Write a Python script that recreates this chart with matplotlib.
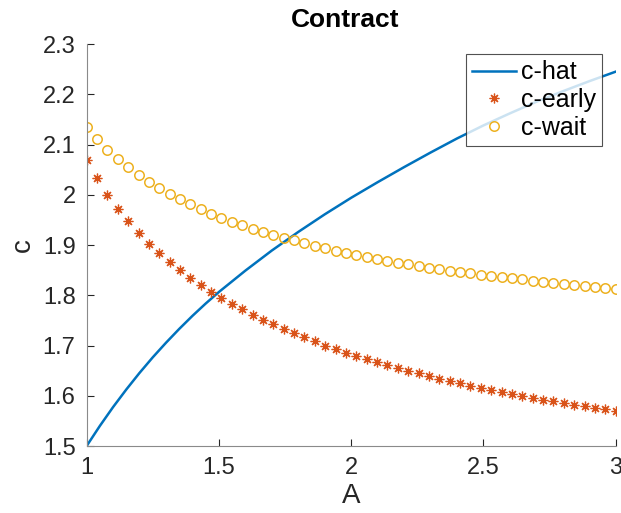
import matplotlib
matplotlib.use("Agg")
import matplotlib.pyplot as plt
import numpy as np

plt.rcParams.update({
    "font.family": ["Liberation Sans", "DejaVu Sans"],
    "axes.linewidth": 0.8,
})

# sample grid for the marker series (52 evenly spaced values of A)
A = np.linspace(1.0, 3.0, 52)

c_early = [
    2.070, 2.034, 2.000, 1.972, 1.947, 1.924, 1.903, 1.884, 1.866, 1.850,
    1.835, 1.821, 1.807, 1.795, 1.783, 1.772, 1.761, 1.751, 1.742, 1.733,
    1.724, 1.716, 1.708, 1.700, 1.693, 1.686, 1.680, 1.673, 1.667, 1.661,
    1.655, 1.650, 1.645, 1.639, 1.634, 1.629, 1.625, 1.620, 1.616, 1.612,
    1.608, 1.604, 1.600, 1.596, 1.592, 1.589, 1.586, 1.582, 1.579, 1.576,
    1.573, 1.570,
]

c_wait = [
    2.134, 2.110, 2.089, 2.071, 2.055, 2.040, 2.026, 2.013, 2.002, 1.991,
    1.981, 1.971, 1.962, 1.954, 1.946, 1.939, 1.932, 1.926, 1.920, 1.914,
    1.909, 1.904, 1.899, 1.894, 1.889, 1.885, 1.881, 1.877, 1.873, 1.869,
    1.865, 1.862, 1.859, 1.855, 1.852, 1.849, 1.847, 1.844, 1.841, 1.839,
    1.836, 1.834, 1.832, 1.829, 1.827, 1.825, 1.823, 1.821, 1.819, 1.817,
    1.815, 1.813,
]

A_hat = [1.0, 1.05, 1.1, 1.15, 1.2, 1.25, 1.3, 1.35, 1.4, 1.45, 1.5,
         1.6, 1.7, 1.8, 1.9, 2.0, 2.1, 2.2, 2.3, 2.4, 2.5,
         2.6, 2.7, 2.8, 2.9, 3.0]
c_hat = [1.500, 1.540, 1.5775, 1.6125, 1.6455, 1.6765, 1.7055, 1.733, 1.759, 1.7835, 1.8065,
         1.849, 1.889, 1.926, 1.961, 1.994, 2.025, 2.055, 2.084, 2.112, 2.138,
         2.162, 2.185, 2.206, 2.226, 2.245]

x_ticks = [1, 1.5, 2, 2.5, 3]
x_ticklabels = ["1", "1.5", "2", "2.5", "3"]
y_ticks = [1.5, 1.6, 1.7, 1.8, 1.9, 2.0, 2.1, 2.2, 2.3]
y_ticklabels = ["1.5", "1.6", "1.7", "1.8", "1.9", "2", "2.1", "2.2", "2.3"]

BLUE = "#0072BD"
ORANGE = "#D95319"
YELLOW = "#EDB120"

fig = plt.figure(figsize=(6.21, 5.13), dpi=100)
ax = fig.add_axes([0.1395, 0.1306, 0.852, 0.7836])

ax.plot(A_hat, c_hat, color=BLUE, linewidth=1.8, label="c-hat")
ax.plot(A, c_early, linestyle="none", marker=(8, 2, 0), markersize=7,
        markeredgewidth=0.9, color=ORANGE, label="c-early")
ax.plot(A, c_wait, linestyle="none", marker="o", markersize=6.8,
        markerfacecolor="none", markeredgewidth=1.1, color=YELLOW, label="c-wait")

ax.set_xlim(1, 3)
ax.set_ylim(1.5, 2.3)
ax.set_xticks(x_ticks, x_ticklabels)
ax.set_yticks(y_ticks, y_ticklabels)

for side in ("top", "right"):
    ax.spines[side].set_visible(False)
for side in ("left", "bottom"):
    ax.spines[side].set_color("#8a8a8a")
ax.tick_params(direction="in", length=5, width=0.8, color="#262626",
               labelsize=17, labelcolor="#262626")
ax.tick_params(axis="x", pad=8)
ax.tick_params(axis="y", pad=8)

ax.set_xlabel("A", fontsize=20, color="#262626", labelpad=3)
ax.set_ylabel("c", fontsize=20, color="#262626", labelpad=5)
ax.set_title("Contract", fontsize=19, fontweight="bold", pad=12, x=0.488)

leg = ax.legend(loc="upper right", bbox_to_anchor=(602 / 621, 1 - 54 / 513),
                bbox_transform=fig.transFigure, fontsize=18, frameon=True,
                fancybox=False, borderpad=0.25, labelspacing=0.15,
                handlelength=1.75, handletextpad=0.2, borderaxespad=0)
leg.get_frame().set_edgecolor("#262626")
leg.get_frame().set_linewidth(0.8)

fig.savefig("out.png", dpi=100)
